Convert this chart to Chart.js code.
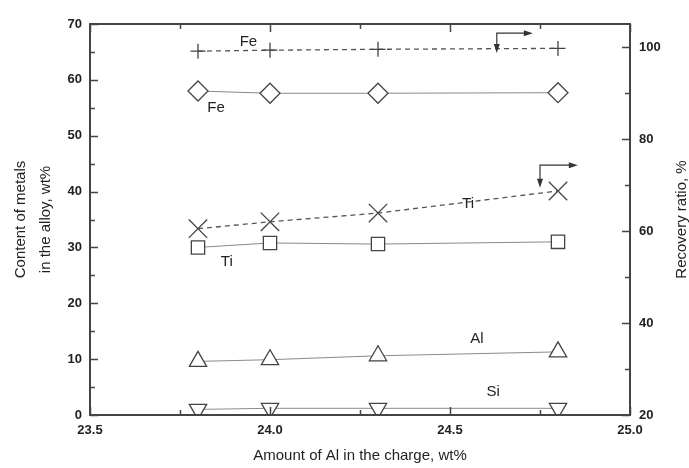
<!DOCTYPE html>
<html>
<head>
<meta charset="utf-8">
<script src="https://cdn.jsdelivr.net/npm/chart.js@4.4.1/dist/chart.umd.min.js"></script>
<style>
  html, body { margin: 0; padding: 0; background: #fff; }
</style>
</head>
<body>
<canvas id="chart" width="689" height="468"></canvas>
<script>
// Al in the charge, wt%
const alCharge = [23.8, 24.0, 24.3, 24.8];

// metal content in the alloy, wt% (left axis)
const feContent = [58.0, 57.6, 57.6, 57.7];
const tiContent = [30.0, 30.8, 30.6, 31.0];
const alContent = [9.6, 9.9, 10.6, 11.3];
const siContent = [1.0, 1.2, 1.2, 1.2];

// recovery ratio, % (right axis)
const feRecovery = [99.1, 99.3, 99.5, 99.7];
const tiRecovery = [60.5, 62.0, 63.9, 68.7];

const xTicks = [23.5, 24.0, 24.5, 25.0];
const leftTicks = [0, 10, 20, 30, 40, 50, 60, 70];
const rightTicks = [20, 40, 60, 80, 100];

const pts = ys => ys.map((y, i) => ({ x: alCharge[i], y }));

const FONT = '"Liberation Sans", Arial, sans-serif';
const INK = '#222';

function series(data, axis, style, extra) {
  return Object.assign({
    data: pts(data),
    yAxisID: axis,
    borderColor: '#8a8a8a',
    borderWidth: 1,
    pointStyle: style,
    pointRadius: 10,
    pointBorderColor: '#444',
    pointBackgroundColor: '#fff',
    pointBorderWidth: 1.3,
  }, extra || {});
}

// box + inward tick marks on all four sides
const frame = {
  id: 'frame',
  afterDraw(chart) {
    const { ctx, chartArea: { left, right, top, bottom }, scales: { x, y, y2 } } = chart;
    ctx.save();
    ctx.strokeStyle = '#444';
    ctx.lineWidth = 1.5;
    ctx.beginPath();
    for (let v = 23.5; v <= 25.001; v += 0.25) {
      const px = Math.round(x.getPixelForValue(v)) + 0.5;
      const len = Math.abs(v * 2 - Math.round(v * 2)) < 1e-6 ? 8 : 5;
      ctx.moveTo(px, bottom); ctx.lineTo(px, bottom - len);
      ctx.moveTo(px, top); ctx.lineTo(px, top + len);
    }
    for (let v = 0; v <= 70; v += 5) {
      const py = Math.round(y.getPixelForValue(v)) + 0.5;
      ctx.moveTo(left, py); ctx.lineTo(left + (v % 10 === 0 ? 8 : 5), py);
    }
    for (let v = 20; v <= 100; v += 10) {
      const py = Math.round(y2.getPixelForValue(v)) + 0.5;
      ctx.moveTo(right, py); ctx.lineTo(right - (v % 20 === 0 ? 8 : 5), py);
    }
    ctx.stroke();
    ctx.lineWidth = 2;
    ctx.strokeRect(left, top, right - left, bottom - top);

    // right axis title, reading bottom-to-top like the left one
    ctx.fillStyle = INK;
    ctx.font = '15px ' + FONT;
    ctx.textAlign = 'center';
    ctx.textBaseline = 'middle';
    ctx.translate(682, (top + bottom) / 2);
    ctx.rotate(-Math.PI / 2);
    ctx.fillText('Recovery ratio, %', 0, 0);
    ctx.restore();
  }
};

// element names next to the curves and the arrows pointing to the right axis
const notes = {
  id: 'notes',
  afterDraw(chart) {
    const { ctx, scales: { x, y, y2 } } = chart;
    const labels = [
      ['Fe', 23.94, 101.1, y2],
      ['Fe', 23.85, 54.9, y],
      ['Ti', 24.55, 66.0, y2],
      ['Ti', 23.88, 27.4, y],
      ['Al', 24.575, 13.55, y],
      ['Si', 24.62, 4.2, y],
    ];
    ctx.save();
    ctx.fillStyle = INK;
    ctx.font = '15px ' + FONT;
    ctx.textAlign = 'center';
    ctx.textBaseline = 'middle';
    labels.forEach(([t, vx, vy, s]) => ctx.fillText(t, x.getPixelForValue(vx), s.getPixelForValue(vy)));

    const arrows = [
      [24.63, 103.0, 98.7, 24.73],
      [24.75, 74.3, 69.4, 24.855],
    ];
    ctx.strokeStyle = '#333';
    ctx.fillStyle = '#333';
    ctx.lineWidth = 1.2;
    arrows.forEach(([cx, cy, downTo, rightTo]) => {
      const px = x.getPixelForValue(cx);
      const py = y2.getPixelForValue(cy);
      const pb = y2.getPixelForValue(downTo);
      const pr = x.getPixelForValue(rightTo);
      ctx.beginPath();
      ctx.moveTo(px, pb - 6); ctx.lineTo(px, py); ctx.lineTo(pr - 8, py);
      ctx.stroke();
      ctx.beginPath();
      ctx.moveTo(px, pb); ctx.lineTo(px - 3, pb - 9); ctx.lineTo(px + 3, pb - 9); ctx.closePath();
      ctx.fill();
      ctx.beginPath();
      ctx.moveTo(pr, py); ctx.lineTo(pr - 9, py - 3); ctx.lineTo(pr - 9, py + 3); ctx.closePath();
      ctx.fill();
    });
    ctx.restore();
  }
};

const tickFont = { family: FONT, size: 13, weight: 'bold' };

new Chart(document.getElementById('chart'), {
  type: 'line',
  data: {
    datasets: [
      series(feRecovery, 'y2', 'cross', { borderColor: '#555', borderDash: [5, 4], borderWidth: 1.3, pointRadius: 7.5 }),
      series(tiRecovery, 'y2', 'crossRot', { borderColor: '#555', borderDash: [5, 4], borderWidth: 1.3, pointRadius: 13 }),
      series(feContent, 'y', 'rectRot'),
      series(tiContent, 'y', 'rect', { pointRadius: 9.4 }),
      series(alContent, 'y', 'triangle'),
      series(siContent, 'y', 'triangle', { pointRotation: 180 }),
    ],
  },
  options: {
    responsive: false,
    animation: false,
    devicePixelRatio: 1,
    layout: { padding: { top: 24 } },
    plugins: {
      legend: { display: false },
      tooltip: { enabled: false },
    },
    scales: {
      x: {
        type: 'linear',
        min: 23.5,
        max: 25.0,
        afterBuildTicks: s => { s.ticks = xTicks.map(v => ({ value: v })); },
        afterFit: s => { s.height = 53; },
        grid: { display: false, drawTicks: false },
        border: { display: false },
        ticks: {
          font: tickFont, color: INK, padding: 8,
          callback: v => v.toFixed(1),
        },
        title: {
          display: true,
          text: 'Amount of Al in the charge, wt%',
          font: { family: FONT, size: 15 },
          color: INK,
          padding: { top: 0, bottom: 3 },
        },
      },
      y: {
        position: 'left',
        min: 0,
        max: 70,
        afterBuildTicks: s => { s.ticks = leftTicks.map(v => ({ value: v })); },
        afterFit: s => { s.width = 90; },
        grid: { display: false, drawTicks: false },
        border: { display: false },
        ticks: { font: tickFont, color: INK, padding: 8 },
        title: {
          display: true,
          text: ['Content of metals', 'in the alloy, wt%'],
          font: { family: FONT, size: 15, lineHeight: '25px' },
          color: INK,
          padding: { top: 8, bottom: 0 },
        },
      },
      y2: {
        position: 'right',
        min: 20,
        max: 105,
        afterBuildTicks: s => { s.ticks = rightTicks.map(v => ({ value: v })); },
        afterFit: s => { s.width = 59; },
        grid: { display: false, drawTicks: false },
        border: { display: false },
        ticks: { font: tickFont, color: INK, padding: 9 },
      },
    },
  },
  plugins: [frame, notes],
});
</script>
</body>
</html>
